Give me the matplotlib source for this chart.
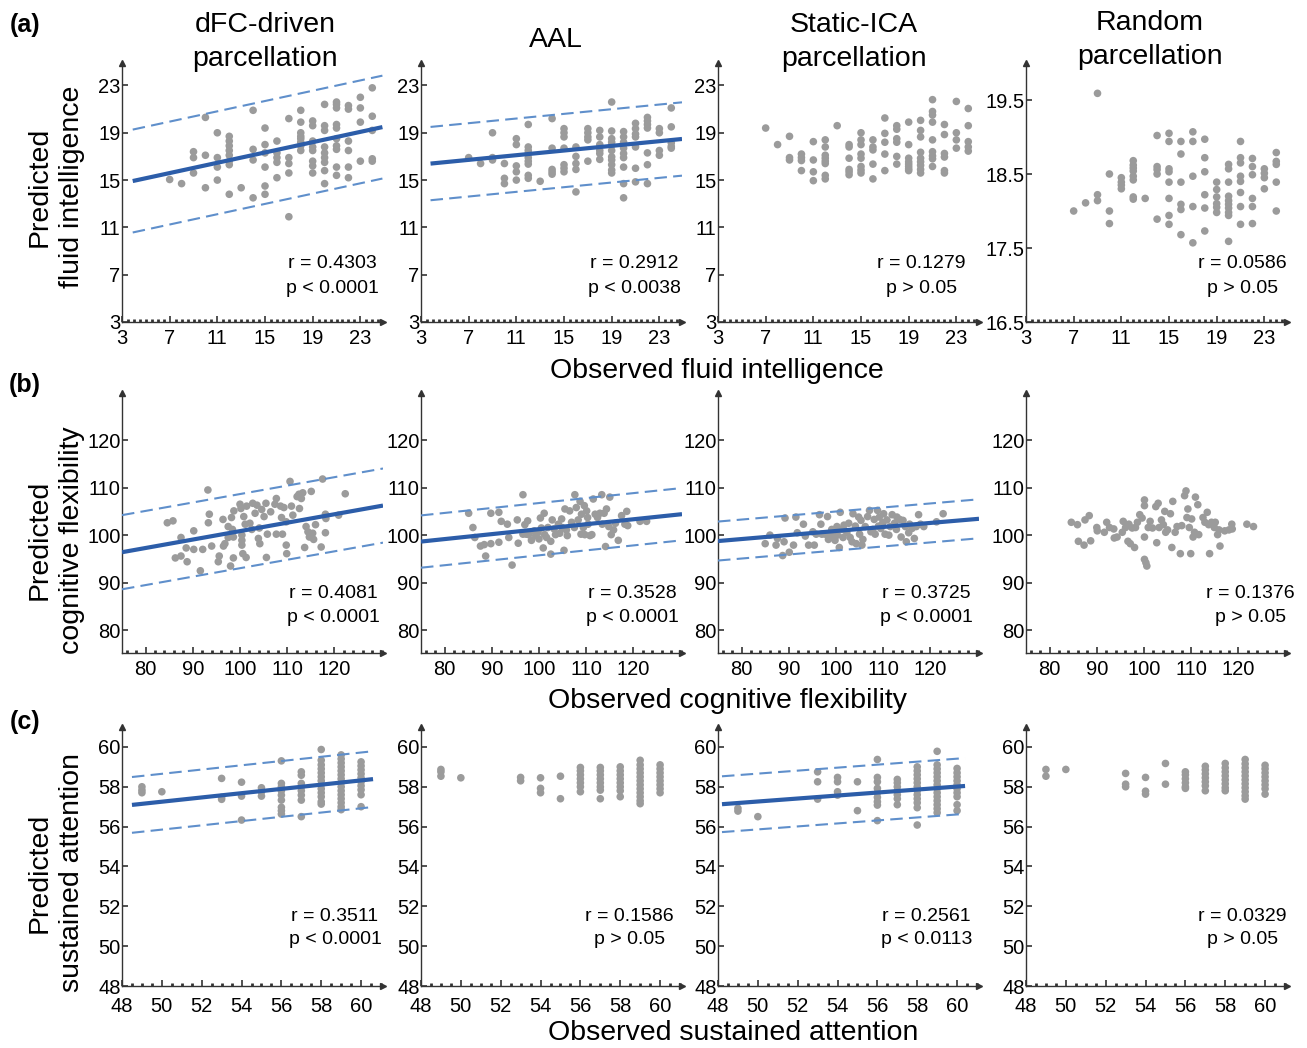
import matplotlib
matplotlib.use('Agg')
import matplotlib.pyplot as plt
import numpy as np
from matplotlib.ticker import MultipleLocator

plt.rcParams['font.family'] = ['Liberation Sans', 'DejaVu Sans']

# ---- data ----
col_titles = ['dFC-driven\nparcellation', 'AAL', 'Static-ICA\nparcellation', 'Random\nparcellation']
row_tags = ['(a)', '(b)', '(c)']
row_xlabels = ['Observed fluid intelligence', 'Observed cognitive flexibility', 'Observed sustained attention']
row_ylabels = ['Predicted\nfluid intelligence', 'Predicted\ncognitive flexibility', 'Predicted\nsustained attention']

# row (a): integer observed scores, predicted values stacked per score
fluid_x = [7, 8, 9, 10, 11, 12, 13, 14, 15, 16, 17, 18, 19, 20, 21, 22, 23, 24]
fluid_dfc = [
    [15.05], [14.7], [17.4, 16.9, 15.6], [20.3, 17.1, 14.35], [19.0, 16.9, 16.1, 15.0],
    [18.7, 18.3, 17.9, 17.5, 17.1, 16.6, 16.3, 13.8], [14.35], [20.9, 17.6, 16.7, 13.5],
    [19.4, 18.0, 17.3, 16.1, 14.5, 13.8], [18.3, 17.3, 16.9, 16.5, 15.2], [20.2, 16.9, 16.4, 15.6, 11.9],
    [20.9, 19.9, 19.0, 18.7, 18.5, 18.2, 17.9, 17.5], [20.0, 19.6, 18.3, 17.8, 17.5, 16.6, 16.2, 15.6],
    [21.4, 19.6, 19.2, 17.8, 17.3, 16.9, 16.5, 15.8, 14.7],
    [21.6, 21.4, 21.1, 19.7, 19.4, 18.5, 17.9, 17.6, 16.1, 15.4],
    [21.3, 21.0, 18.3, 17.5, 16.1, 15.2], [22.0, 21.1, 19.9, 16.6], [22.8, 20.4, 19.2, 16.8, 16.6],
]
fluid_aal = [
    [16.9], [16.4], [19.0, 16.9, 16.7], [16.4, 15.15, 14.7], [18.5, 18.0, 16.2, 15.7, 15.0],
    [19.7, 17.8, 17.5, 17.25, 16.9, 16.6, 16.35, 15.4, 15.15], [14.9], [20.2, 17.7, 15.9, 15.7, 15.5],
    [19.35, 19.0, 18.65, 17.7, 16.3, 16.0, 15.7], [17.8, 17.0, 16.4, 15.9, 14.0],
    [19.35, 19.0, 18.65, 18.4, 16.6], [19.2, 18.65, 18.0, 17.5, 17.25, 16.75],
    [21.6, 19.15, 18.5, 18.2, 17.95, 17.5, 16.97, 16.7, 16.3, 15.85, 15.6],
    [19.1, 18.65, 18.2, 17.7, 17.25, 16.9, 16.1, 14.7, 13.5],
    [19.8, 19.35, 18.9, 18.65, 17.8, 16.0, 14.85], [20.3, 20.0, 19.7, 19.4, 17.3, 16.3, 14.7],
    [19.35, 19.0, 17.5, 17.1], [21.1, 19.5, 18.15, 17.85, 17.7],
]
fluid_ica = [
    [19.4], [18.0], [18.7, 16.9, 16.7], [17.2, 16.9, 16.65, 15.8], [18.25, 16.7, 15.7, 14.95],
    [18.4, 17.8, 17.1, 16.85, 16.6, 16.4, 15.4, 15.1], [19.6], [18.0, 17.8, 16.85, 15.9, 15.7, 15.45],
    [19.0, 18.4, 18.0, 17.2, 16.85, 16.15, 15.85, 15.6], [18.4, 17.8, 17.55, 16.35, 15.1],
    [20.25, 18.95, 18.2, 17.2, 15.8], [19.6, 19.3, 18.5, 18.2, 17.0, 16.35],
    [19.9, 18.0, 16.85, 16.55, 16.35, 16.15, 15.95, 15.8],
    [20.05, 19.2, 18.65, 17.35, 16.85, 16.55, 16.25, 15.9, 15.6],
    [21.8, 20.8, 20.5, 19.9, 18.4, 17.4, 17.05, 16.8, 16.15],
    [19.7, 18.85, 17.25, 16.95, 15.8, 15.6], [21.65, 19.0, 18.4, 17.7], [21.05, 19.6, 18.25, 17.8, 17.45],
]
fluid_rand = [
    [18.0], [18.11], [19.59, 18.22, 18.14], [18.5, 18.0, 17.83], [18.45, 18.39, 18.35, 18.3],
    [18.68, 18.62, 18.58, 18.54, 18.47, 18.42, 18.19, 18.16], [18.17], [19.02, 18.6, 18.56, 18.5, 17.89],
    [19.05, 18.94, 18.57, 18.53, 18.39, 18.17, 17.94, 17.82], [18.94, 18.77, 18.39, 18.09, 18.02, 17.68],
    [19.07, 18.94, 18.47, 18.06, 17.57], [18.97, 18.72, 18.53, 18.22, 18.04, 17.73],
    [18.39, 18.29, 18.19, 18.1, 18.05, 17.98],
    [18.63, 18.57, 18.39, 18.2, 18.14, 18.09, 18.04, 17.98, 17.94, 17.59],
    [18.94, 18.72, 18.65, 18.47, 18.4, 18.25, 18.06, 17.82], [18.71, 18.6, 18.49, 18.17, 18.06, 17.83],
    [18.57, 18.51, 18.45, 18.3], [18.79, 18.67, 18.63, 18.39, 18.0],
]

# row (b): (observed, predicted) pairs
flex_dfc = [
    (84.6, 102.6), (85.8, 103.0), (86.3, 95.2), (87.5, 99.5), (87.5, 95.6), (88.8, 94.4), (88.6, 97.3),
    (90.2, 100.9), (90.2, 97.0), (91.6, 92.5), (92.1, 97.0), (93.2, 109.5), (93.5, 104.4), (93.3, 102.6),
    (94.0, 97.7), (95.4, 94.4), (95.6, 95.6), (96.4, 103.3), (96.5, 97.7), (96.8, 98.2), (97.5, 99.5),
    (97.5, 101.8), (98.0, 93.5), (98.2, 103.7), (98.4, 101.2), (98.6, 95.2), (98.7, 105.1), (98.6, 99.6),
    (100.0, 106.5), (100.2, 105.6), (100.4, 100.0), (100.4, 98.9), (100.4, 97.9), (100.6, 96.1),
    (100.8, 103.9), (101.1, 102.3), (101.3, 95.3), (101.4, 106.1), (102.1, 102.5), (102.5, 101.2),
    (102.7, 106.7), (103.2, 104.6), (103.6, 106.3), (103.9, 99.3), (104.1, 101.5), (104.2, 98.2),
    (104.6, 105.4), (105.1, 103.9), (105.5, 106.7), (105.8, 100.2), (105.6, 95.3), (106.5, 104.9),
    (107.4, 106.5), (107.7, 107.7), (107.7, 100.2), (108.6, 106.1), (108.8, 103.7), (109.0, 100.2),
    (109.3, 105.8), (109.8, 102.8), (109.8, 97.9), (109.9, 96.1), (110.6, 111.3), (110.9, 106.1),
    (111.2, 104.2), (112.1, 108.1), (112.5, 108.6), (112.6, 105.6), (113.0, 107.7), (113.3, 108.9),
    (113.7, 97.4), (114.0, 101.8), (114.4, 100.7), (114.7, 99.6), (115.1, 109.2), (115.4, 100.4),
    (115.6, 99.1), (116.0, 102.2), (117.2, 97.5), (117.5, 111.8), (118.1, 104.4), (118.2, 103.5),
    (118.1, 100.5), (120.9, 104.2), (122.3, 108.7),
]
flex_aal = [
    (85.1, 104.6), (86.0, 101.6), (86.4, 99.5), (87.6, 97.7), (88.4, 98.0), (88.7, 95.6), (89.8, 98.2),
    (89.8, 104.6), (91.5, 104.8), (91.5, 98.5), (92.0, 102.9), (93.3, 102.3), (93.6, 99.5), (94.3, 93.7),
    (95.4, 103.2), (95.6, 98.3), (96.6, 108.5), (96.6, 100.2), (97.0, 102.2), (97.3, 100.2), (97.6, 103.0),
    (97.8, 100.1), (98.4, 98.9), (99.0, 100.9), (99.3, 99.9), (99.8, 100.6), (100.0, 99.2), (100.3, 103.6),
    (100.5, 101.5), (100.9, 97.3), (101.1, 104.6), (101.2, 100.1), (101.6, 99.5), (101.9, 101.6),
    (102.5, 98.7), (102.5, 96.0), (102.8, 103.2), (103.2, 101.3), (103.5, 100.1), (104.1, 102.3),
    (104.4, 100.4), (104.8, 103.4), (104.9, 101.6), (105.3, 96.8), (105.5, 105.5), (105.8, 101.1),
    (106.0, 99.9), (106.5, 105.1), (106.9, 102.7), (107.5, 101.6), (107.6, 108.5), (107.9, 105.8),
    (108.3, 103.2), (108.7, 107.1), (108.9, 100.2), (109.0, 104.4), (109.4, 101.6), (109.6, 106.2),
    (109.7, 100.1), (110.1, 105.1), (110.3, 103.7), (110.4, 102.3), (110.8, 99.9), (111.2, 100.1),
    (111.5, 107.6), (111.9, 104.4), (112.4, 103.7), (112.9, 104.6), (113.3, 108.5), (113.4, 102.3),
    (113.8, 104.6), (114.1, 97.6), (114.3, 105.5), (114.8, 101.8), (115.0, 108.0), (115.3, 100.1),
    (115.8, 101.1), (116.2, 102.5), (116.8, 98.9), (117.5, 104.1), (118.2, 102.3), (118.6, 105.0),
    (118.8, 102.0), (121.4, 102.9), (122.8, 102.9),
]
flex_ica = [
    (85.0, 98.2), (86.0, 100.0), (87.3, 97.9), (87.6, 99.3), (88.7, 95.7), (89.0, 98.6), (89.2, 103.6),
    (90.1, 96.4), (91.0, 97.9), (91.5, 103.8), (91.8, 100.5), (93.1, 102.3), (93.5, 99.8), (94.2, 97.9),
    (95.1, 100.7), (95.4, 97.9), (95.8, 100.2), (96.5, 104.3), (96.8, 102.3), (97.0, 100.2), (97.7, 100.2),
    (98.2, 103.9), (98.4, 99.1), (98.8, 100.2), (99.1, 101.2), (99.5, 99.6), (99.8, 98.9), (100.2, 101.8),
    (100.3, 100.0), (100.7, 97.4), (100.9, 104.8), (101.2, 101.2), (101.5, 99.5), (101.7, 102.1),
    (102.3, 100.5), (102.7, 102.5), (103.0, 99.5), (103.4, 98.6), (103.6, 104.5), (104.1, 101.9),
    (104.3, 98.2), (104.8, 103.8), (105.0, 100.2), (105.3, 103.1), (105.5, 97.9), (105.7, 99.1),
    (106.2, 101.8), (106.7, 103.9), (107.1, 105.2), (107.4, 100.7), (107.8, 101.2), (108.1, 103.3),
    (108.3, 100.2), (108.8, 105.2), (109.0, 101.9), (109.2, 103.8), (109.5, 101.4), (109.9, 102.6),
    (110.1, 104.5), (110.4, 100.2), (110.8, 103.2), (111.2, 100.0), (111.5, 101.8), (111.9, 104.3),
    (112.4, 102.5), (112.8, 101.2), (112.9, 103.8), (113.5, 103.3), (113.8, 99.6), (114.2, 103.1),
    (114.7, 101.8), (114.9, 98.6), (115.4, 100.5), (115.6, 102.3), (116.1, 101.4), (116.6, 99.3),
    (117.0, 101.8), (117.5, 104.3), (117.9, 102.3), (118.6, 101.8), (121.3, 102.8), (122.7, 104.5),
]
flex_rand = [
    (84.6, 102.7), (85.9, 102.2), (86.1, 98.7), (87.3, 97.9), (87.5, 103.2), (88.4, 104.1), (88.7, 98.8),
    (90.0, 101.6), (90.1, 100.9), (91.6, 100.6), (92.1, 102.7), (92.7, 101.6), (93.6, 101.3), (93.7, 99.4),
    (94.3, 99.6), (95.4, 100.6), (95.6, 102.9), (96.1, 101.6), (96.6, 98.7), (96.8, 102.3), (97.1, 98.2),
    (97.5, 101.5), (98.0, 97.4), (98.2, 101.6), (98.6, 102.7), (99.1, 104.3), (99.6, 103.6), (100.1, 107.4),
    (100.1, 106.2), (100.1, 99.6), (100.1, 94.9), (100.4, 94.2), (100.6, 93.5), (100.9, 101.6),
    (101.3, 102.9), (101.8, 101.5), (102.5, 106.0), (102.7, 98.4), (103.0, 106.7), (103.2, 101.6),
    (103.7, 103.2), (104.1, 102.2), (104.4, 105.0), (104.6, 100.6), (105.0, 101.1), (105.6, 104.5),
    (105.9, 97.4), (106.1, 107.1), (106.6, 100.6), (107.0, 101.8), (107.7, 96.1), (108.0, 102.0),
    (108.6, 108.3), (108.9, 109.3), (109.1, 103.7), (109.3, 105.5), (109.6, 101.6), (109.9, 96.1),
    (110.1, 103.4), (110.4, 99.6), (110.7, 100.6), (110.9, 108.0), (111.4, 106.4), (111.6, 100.1),
    (112.5, 103.7), (112.9, 102.7), (113.4, 104.8), (113.9, 96.1), (113.7, 102.2), (114.3, 102.7),
    (114.9, 101.6), (115.1, 102.7), (115.6, 100.1), (115.9, 101.1), (116.1, 97.7), (117.1, 100.9),
    (118.0, 101.1), (118.6, 102.3), (118.7, 101.3), (121.8, 102.3), (123.2, 101.8),
]

# row (c): integer observed scores, predicted values stacked per score
attn_x = [49, 50, 53, 54, 55, 56, 57, 58, 59, 60]
attn_dfc = [
    [58.0, 57.83, 57.7], [57.75], [58.42, 57.47, 57.37], [58.23, 57.53, 56.33], [57.95, 57.75, 57.53],
    [59.3, 58.17, 58.0, 57.8, 57.58, 57.33, 56.97, 56.8, 56.63],
    [58.75, 58.58, 58.17, 58.0, 57.8, 57.58, 57.33, 56.5],
    [59.87, 59.33, 59.1, 58.9, 58.7, 58.5, 58.3, 58.1, 57.9, 57.7, 57.5, 57.25, 57.13],
    [59.6, 59.4, 59.2, 59.0, 58.8, 58.6, 58.4, 58.2, 58.0, 57.8, 57.6, 57.4, 57.2, 57.0, 56.85],
    [59.25, 59.05, 58.85, 58.65, 58.45, 58.25, 58.05, 57.85, 57.6, 57.0],
]
attn_aal = [
    [58.87, 58.75, 58.53], [58.45], [58.47, 58.3], [58.45, 57.92, 57.7], [58.53, 57.4],
    [58.97, 58.8, 58.6, 58.4, 58.2, 58.0, 57.75],
    [58.97, 58.8, 58.6, 58.4, 58.2, 58.0, 57.83, 57.4],
    [59.0, 58.8, 58.6, 58.4, 58.2, 58.0, 57.8, 57.5],
    [59.33, 59.1, 58.9, 58.7, 58.5, 58.3, 58.1, 57.9, 57.7, 57.5, 57.3, 57.15],
    [59.1, 58.9, 58.7, 58.5, 58.3, 58.1, 57.9, 57.7],
]
attn_ica = [
    [56.92, 56.78], [56.5], [58.75, 58.25, 57.38], [58.47, 58.25, 57.75, 57.58], [58.25, 56.8],
    [59.37, 58.47, 58.25, 57.92, 57.7, 57.47, 57.25, 57.08, 56.3],
    [58.37, 58.2, 58.0, 57.8, 57.6, 57.4, 57.1],
    [59.0, 58.8, 58.6, 58.4, 58.2, 58.0, 57.8, 57.6, 57.4, 57.2, 56.95, 56.08],
    [59.78, 59.1, 58.9, 58.7, 58.5, 58.3, 58.1, 57.9, 57.7, 57.5, 57.3, 57.1, 56.9, 56.7],
    [58.92, 58.7, 58.5, 58.3, 58.1, 57.9, 57.7, 57.5, 57.1, 56.8],
]
attn_rand = [
    [58.87, 58.53], [58.87], [58.67, 58.13, 58.0], [58.47, 57.78, 57.63], [59.17, 58.13],
    [58.75, 58.6, 58.4, 58.2, 58.0, 57.92],
    [59.03, 58.85, 58.65, 58.45, 58.25, 58.05, 57.8],
    [59.17, 58.95, 58.75, 58.55, 58.35, 58.15, 57.95, 57.8],
    [59.37, 59.15, 58.95, 58.75, 58.55, 58.35, 58.15, 57.95, 57.75, 57.55, 57.38],
    [59.08, 58.9, 58.7, 58.5, 58.3, 58.1, 57.9, 57.63],
]

stats_r = [['r = 0.4303', 'r = 0.2912', 'r = 0.1279', 'r = 0.0586'],
           ['r = 0.4081', 'r = 0.3528', 'r = 0.3725', 'r = 0.1376'],
           ['r = 0.3511', 'r = 0.1586', 'r = 0.2561', 'r = 0.0329']]
stats_p = [['p < 0.0001', 'p < 0.0038', 'p > 0.05', 'p > 0.05'],
           ['p < 0.0001', 'p < 0.0001', 'p < 0.0001', 'p > 0.05'],
           ['p < 0.0001', 'p > 0.05', 'p < 0.0113', 'p > 0.05']]

# fitted lines: (slope, intercept, half-width of dashed band, x start, x end); None = no fit drawn
fits = [[(0.2177, 14.07, 4.35, 3.9, 24.85), (0.0986, 16.02, 3.1, 3.8, 24.9), None, None],
        [(0.1774, 83.1, 7.8, 75.0, 130.3), (0.1042, 90.83, 5.5, 75.0, 130.3), (0.0847, 92.4, 4.1, 75.0, 130.3), None],
        [(0.107, 51.9, 1.4, 48.5, 60.6), None, (0.075, 53.51, 1.4, 48.2, 60.4), None]]


def stacked(xs, groups):
    ox, oy = [], []
    for x, g in zip(xs, groups):
        ox += [x] * len(g)
        oy += g
    return ox, oy


def pairs(p):
    a = np.array(p)
    return a[:, 0], a[:, 1]


points = [[stacked(fluid_x, fluid_dfc), stacked(fluid_x, fluid_aal),
           stacked(fluid_x, fluid_ica), stacked(fluid_x, fluid_rand)],
          [pairs(flex_dfc), pairs(flex_aal), pairs(flex_ica), pairs(flex_rand)],
          [stacked(attn_x, attn_dfc), stacked(attn_x, attn_aal),
           stacked(attn_x, attn_ica), stacked(attn_x, attn_rand)]]

# ---- layout (pixel geometry of the original) ----
W, H = 1307, 1048
fig = plt.figure(figsize=(W / 100, H / 100), dpi=100)
lefts = [122, 421, 718, 1026]
bottoms = [322, 653, 986]
tops = [63, 393, 727]
ax_w = 261
txt_x = [[0.805, 0.816, 0.78, 0.828], [0.81, 0.81, 0.80, 0.86], [0.816, 0.80, 0.80, 0.83]]
txt_y = [(0.225, 0.128), (0.228, 0.135), (0.27, 0.178)]

row_xlim = [(3, 24.9), (75, 130.3), (48, 61.1)]
row_ylim = [(3, 24.9), (75.2, 129.9), (48, 61)]
row_xticks = [np.arange(3, 24, 4), np.arange(80, 121, 10), np.arange(48, 61, 2)]
row_xminor = [0.5, 2, 0.5]
row_xpad = [5, 5, 8]

dot_c = '#9b9b9b'
fit_c = '#2c5da9'
band_c = '#5f8fcb'

for r in range(3):
    for c in range(4):
        ax = fig.add_axes([lefts[c] / W, 1 - bottoms[r] / H, ax_w / W, (bottoms[r] - tops[r]) / H])
        x, y = points[r][c]
        ax.scatter(x, y, s=30, color=dot_c, edgecolors='none', zorder=2)
        f = fits[r][c]
        if f is not None:
            k, b, hw, x0, x1 = f
            fx = np.array([x0, x1])
            ax.plot(fx, k * fx + b, color=fit_c, lw=3, zorder=3, solid_capstyle='butt')
            ax.plot(fx, k * fx + b + hw, color=band_c, lw=1.5, ls=(0, (6, 3)), zorder=3)
            ax.plot(fx, k * fx + b - hw, color=band_c, lw=1.5, ls=(0, (6, 3)), zorder=3)

        ax.set_xlim(*row_xlim[r])
        if r == 0 and c == 3:
            ax.set_ylim(16.5, 20.0)
            ax.set_yticks([16.5, 17.5, 18.5, 19.5])
            ax.set_yticklabels(['16.5', '17.5', '18.5', '19.5'])
        else:
            ax.set_ylim(*row_ylim[r])
            ax.set_yticks(row_xticks[r])
        ax.set_xticks(row_xticks[r])
        ax.xaxis.set_minor_locator(MultipleLocator(row_xminor[r]))

        for s in ['top', 'right']:
            ax.spines[s].set_visible(False)
        for s in ['left', 'bottom']:
            ax.spines[s].set_color('#333333')
            ax.spines[s].set_linewidth(1.0)
        ax.tick_params(axis='both', which='major', direction='in', length=4, width=1.2,
                       color='#333333', labelsize=14.5, pad=1)
        ax.tick_params(axis='x', which='major', pad=row_xpad[r])
        ax.tick_params(axis='x', which='minor', direction='in', length=2.5, width=2, color='#333333')
        ax.patch.set_alpha(0)
        ax.plot(1, 0, '>', color='#333333', ms=4, transform=ax.transAxes, clip_on=False)
        ax.plot(0, 1, '^', color='#333333', ms=4, transform=ax.transAxes, clip_on=False)

        ax.text(txt_x[r][c], txt_y[r][0], stats_r[r][c], transform=ax.transAxes,
                ha='center', va='center', fontsize=14)
        ax.text(txt_x[r][c], txt_y[r][1], stats_p[r][c], transform=ax.transAxes,
                ha='center', va='center', fontsize=14)

# column titles
title_pos = [(265, 42), (556, 40), (854, 42), (1150, 40)]
for t, (px, py) in zip(col_titles, title_pos):
    fig.text(px / W, 1 - py / H, t, ha='center', va='center', fontsize=20.5, linespacing=1.45)

# row tags, x labels, y labels
tag_y = [25, 385, 722]
xlab_pos = [(717, 371), (727, 701), (733, 1033)]
ylab_pos = [(56, 187), (56, 540), (56, 873)]
for r in range(3):
    fig.text(25 / W, 1 - tag_y[r] / H, row_tags[r], ha='center', va='center',
             fontsize=18, fontweight='bold')
    fig.text(xlab_pos[r][0] / W, 1 - xlab_pos[r][1] / H, row_xlabels[r],
             ha='center', va='center', fontsize=20.5)
    fig.text(ylab_pos[r][0] / W, 1 - ylab_pos[r][1] / H, row_ylabels[r], rotation=90,
             ha='center', va='center', multialignment='center', fontsize=20.5, linespacing=1.3)

fig.savefig('out.png', dpi=100)
plt.close(fig)
